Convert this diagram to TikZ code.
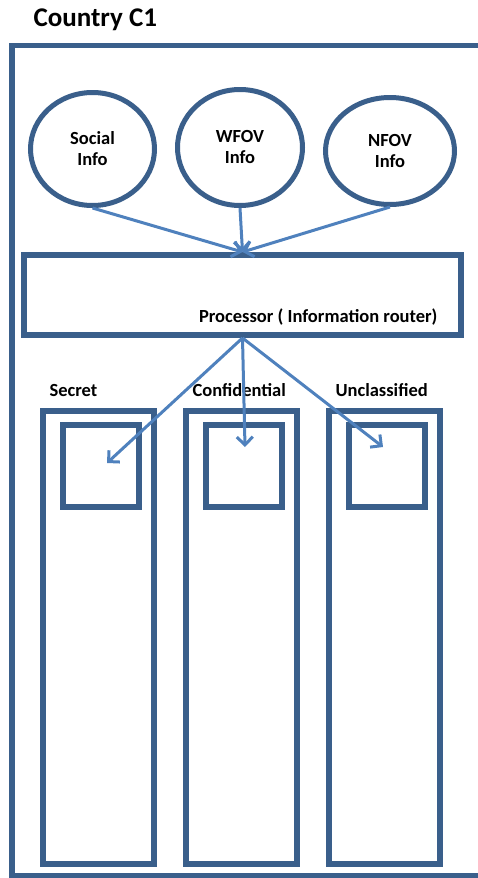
\documentclass[tikz,border=0pt]{standalone}
\usepackage{fontspec}
\setmainfont{Carlito}
\usetikzlibrary{arrows.meta,shapes.geometric,positioning}
\definecolor{boxblue}{HTML}{3A5F8B}
\definecolor{arrowblue}{HTML}{4F81BD}
\tikzstyle{txt}=[font=\bfseries\fontsize{18.5}{21}\selectfont]
\tikzstyle{info}=[ellipse,draw=boxblue,line width=5pt,fill=white,inner sep=0pt,
                align=center,txt]
\tikzstyle{level}=[rectangle,draw=boxblue,line width=5.5pt,inner sep=0pt]
\tikzstyle{feed}=[draw=arrowblue,line width=3pt,
                -{Straight Barb[length=8pt,width=16pt]}]

\begin{document}
\begin{tikzpicture}[x=1pt,y=-1pt]
\useasboundingbox (0,0) rectangle (478,878);
\def \colstep {143}

\node[font=\bfseries\fontsize{27}{30}\selectfont, anchor=base west] (title) at (30,26) {Country C1};
\draw[draw=boxblue, line width=5.5pt] (12,45.5) rectangle (520,876);

\node[info, minimum width=124pt, minimum height=113pt] (social) at (92.5,149) {Social\\Info};
\node[info, minimum width=125pt, minimum height=116pt] (wfov) at (240,147.5) {WFOV\\Info};
\node[info, minimum width=129pt, minimum height=107pt] (nfov) at (390,151) {NFOV\\Info};

\node[level, line width=6pt, minimum width=437pt, minimum height=80pt] (proc) at (242.5,295) {};
\node[txt, anchor=base east] (proclabel) at (441,322) {Processor ( Information router)};

\draw[feed] (social.south) -- (proc.north);
\draw[feed] (wfov.south) -- (proc.north);
\draw[feed] (nfov.south) -- (proc.north);

\foreach \name/\lab/\i/\tx/\ty in {secret/Secret/0/107/463,
                                    conf/Confidential/1/245/447,
                                    uncl/Unclassified/2/383/447}
{
  \node[level, minimum width=111pt, minimum height=453pt] (\name) at ({98.5+\colstep*\i},637.5) {};
  \node[level, minimum width=76pt, minimum height=82pt] (\name in) at ({101+\colstep*\i},466) {};
  \node[txt, anchor=base west] (\name label) at ({46+\colstep*\i},396) {\lab};
  \coordinate (\name tip) at (\tx,\ty);
  \draw[feed] (proc.south) -- (\name tip);
}
\end{tikzpicture}
\end{document}
